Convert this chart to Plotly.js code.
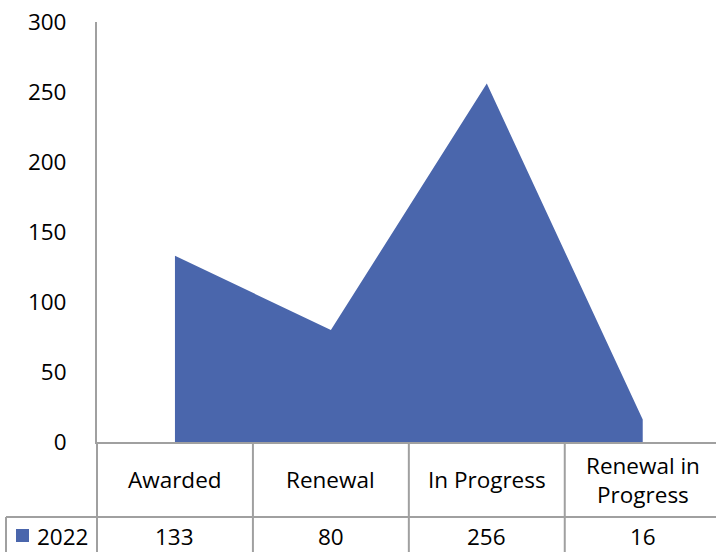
<!DOCTYPE html>
<html>
<head>
<meta charset="utf-8">
<script src="https://cdn.plot.ly/plotly-3.0.1.min.js"></script>
<style>html,body{margin:0;padding:0;background:#fff;}#chart{width:716px;height:552px;}</style>
</head>
<body>
<div id="chart"></div>
<script>
const categories = ['Awarded', 'Renewal', 'In Progress', 'Renewal in<br>Progress'];
const seriesName = '2022';
const values = [133, 80, 256, 16];
const yTicks = [0, 50, 100, 150, 200, 250, 300];

const W = 716, H = 552;
const L = 97, T = 22, B = 110, R = 0;
const PW = W - L - R, PH = H - T - B;
const px = x => (x - L) / PW;
const py = y => (H - B - y) / PH;

const FONT = 'Open Sans, sans-serif';
const FS = 22.5;
const GRID = '#a0a0a0';
const FILL = '#4a66ac';

const idx = categories.map((c, i) => i);

const trace = {
  type: 'scatter',
  x: idx,
  y: values,
  mode: 'lines',
  fill: 'tozeroy',
  fillcolor: FILL,
  line: {width: 0, color: FILL},
  name: seriesName,
  hoverinfo: 'skip'
};

const shapes = [];
const line = (x0, y0, x1, y1, xref, yref) => shapes.push({
  type: 'line', xref: xref || 'paper', yref: yref || 'paper',
  x0, y0, x1, y1, line: {color: GRID, width: 2}
});
// table grid
line(0, py(442), 0, py(552));
idx.slice(1).forEach(i => line(i - 0.5, py(442), i - 0.5, py(552), 'x', 'paper'));
line(px(6), py(517), 1, py(517));
line(px(6), py(517), px(6), py(552));
// legend swatch
shapes.push({type: 'rect', xref: 'paper', yref: 'paper',
  x0: px(16), x1: px(29), y0: py(542), y1: py(529),
  fillcolor: FILL, line: {width: 0}});

const annotations = [];
categories.forEach((c, i) => {
  annotations.push({x: i, xref: 'x', y: py(480), yref: 'paper', text: c,
    showarrow: false, font: {family: FONT, size: FS, color: '#000'},
    xanchor: 'center', yanchor: 'middle'});
  annotations.push({x: i, xref: 'x', y: py(536), yref: 'paper', text: String(values[i]),
    showarrow: false, font: {family: FONT, size: FS, color: '#000'},
    xanchor: 'center', yanchor: 'middle'});
});
annotations.push({x: px(35), xref: 'paper', y: py(536), yref: 'paper', text: seriesName,
  showarrow: false, font: {family: FONT, size: FS, color: '#000'},
  xanchor: 'left', yanchor: 'middle'});

const layout = {
  width: W, height: H,
  margin: {l: L, r: R, t: T, b: B, pad: 0},
  paper_bgcolor: '#fff', plot_bgcolor: '#fff',
  showlegend: false,
  font: {family: FONT, size: FS, color: '#000'},
  xaxis: {
    type: 'linear', range: [-0.5, 3.47], showticklabels: false,
    showgrid: false, zeroline: false, showline: true, linecolor: GRID, linewidth: 2,
    ticks: '', fixedrange: true
  },
  yaxis: {
    range: [0, 300], tickvals: yTicks, ticktext: yTicks.map(String),
    showgrid: false, zeroline: false, showline: true, linecolor: GRID, linewidth: 2,
    ticks: 'outside', ticklen: 24, tickcolor: 'rgba(0,0,0,0)',
    tickfont: {family: FONT, size: FS, color: '#000'}, fixedrange: true
  },
  shapes, annotations
};

Plotly.newPlot('chart', [trace], layout, {displayModeBar: false, staticPlot: true});
</script>
</body>
</html>
